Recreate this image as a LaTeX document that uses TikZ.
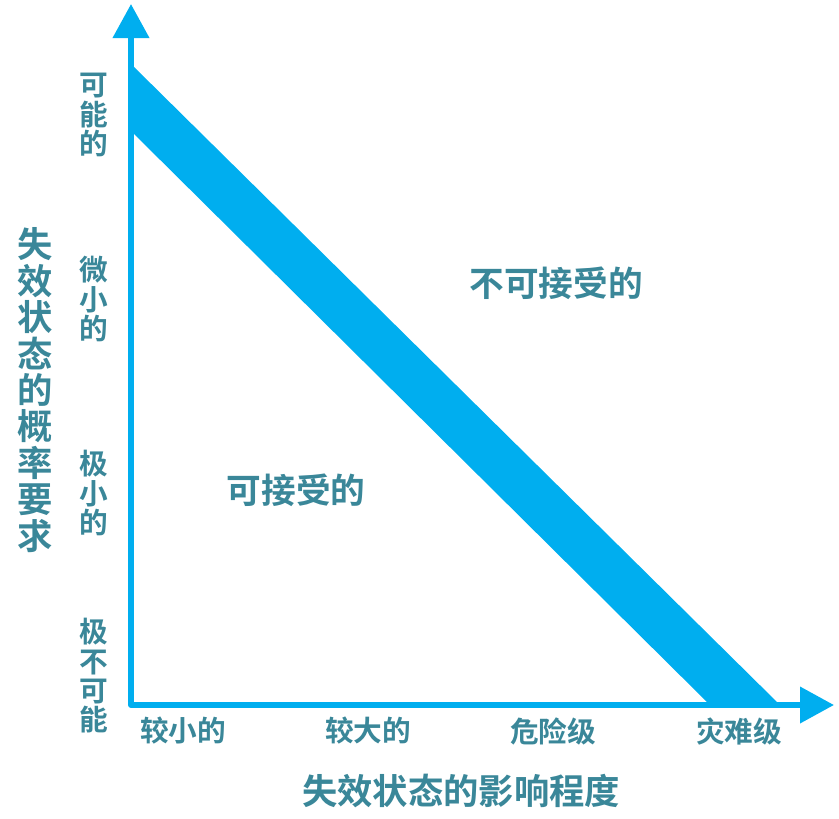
\documentclass[tikz,border=0pt]{standalone}
\usepackage{fontspec}
\newfontfamily\cjk{Noto Sans CJK SC Bold}
\usetikzlibrary{arrows.meta}
\definecolor{axisblue}{RGB}{0,174,239}
\definecolor{labelteal}{RGB}{58,135,153}
\tikzset{
  lbl/.style={text=labelteal,inner sep=0pt,align=center,font=\cjk\fontsize{21.5pt}{22pt}\selectfont},
  region/.style={lbl,font=\cjk\fontsize{26pt}{27pt}\selectfont},
  axistitle/.style={lbl,font=\cjk\fontsize{26.5pt}{27.3pt}\selectfont},
  axis/.style={draw=axisblue,line width=4.5pt,line join=round,
    {Triangle[length=25.5pt,width=26.5pt]}-{Triangle[length=25.5pt,width=26.5pt]}}
}
\begin{document}
\begin{tikzpicture}[x=0.75pt,y=-0.75pt]
\useasboundingbox (0,0) rectangle (839,818);
\coordinate (o) at (131,705);
\coordinate (ytip) at (131,4);
\coordinate (xtip) at (834,705);
% band between the two regions
\fill[axisblue] (131,64) -- (780,705) -- (710,705) -- (131,131) -- cycle;
\draw[axis] (ytip) -- (o) -- (xtip);
\node[lbl] (yprob) at (94,115) {可\\能\\的};
\node[lbl] (yremote) at (94,299) {微\\小\\的};
\node[lbl] (yextremote) at (94,493) {极\\小\\的};
\node[lbl] (yimprob) at (94,676) {极\\不\\可\\能};
\node[lbl] (xminor) at (183,731) {较小的};
\node[lbl] (xmajor) at (368,731) {较大的};
\node[lbl] (xhazard) at (553,731) {危险级};
\node[lbl] (xcatas) at (739,731) {灾难级};
\node[region] (unaccept) at (556,283) {不可接受的};
\node[region] (accept) at (296,490) {可接受的};
\node[axistitle] (xtitle) at (461,791) {失效状态的影响程度};
\node[axistitle] (ytitle) at (35,390) {失\\效\\状\\态\\的\\概\\率\\要\\求};
\end{tikzpicture}
\end{document}
